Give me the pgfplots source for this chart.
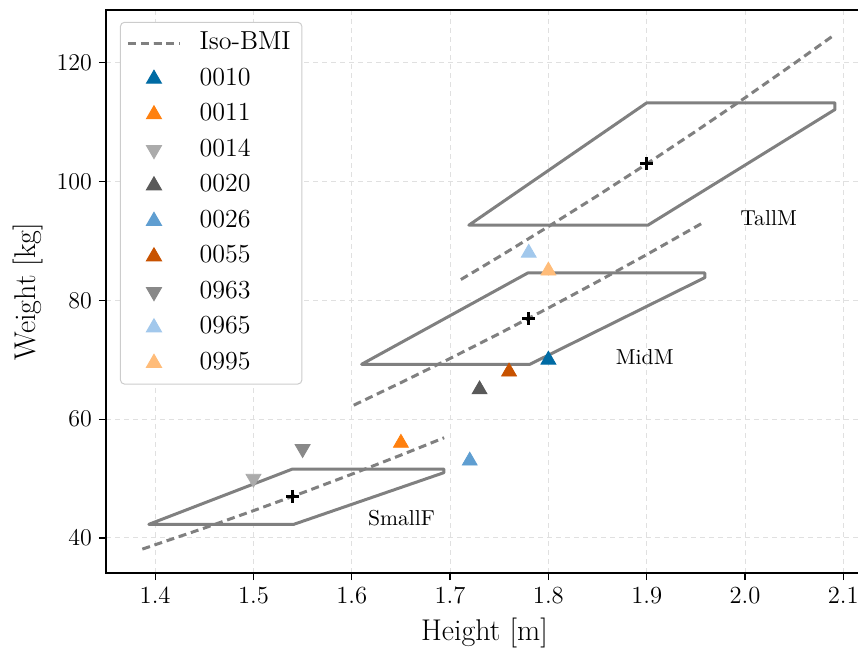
\documentclass[border=0pt]{standalone}
\usepackage{pgfplots}
\pgfplotsset{compat=1.18}
\definecolor{c0010}{HTML}{006BA4}
\definecolor{c0011}{HTML}{FF800E}
\definecolor{c0014}{HTML}{ABABAB}
\definecolor{c0020}{HTML}{595959}
\definecolor{c0026}{HTML}{5F9ED1}
\definecolor{c0055}{HTML}{C85200}
\definecolor{c0963}{HTML}{898989}
\definecolor{c0965}{HTML}{A2C8EC}
\definecolor{c0995}{HTML}{FFBC79}
\definecolor{polyc}{HTML}{808080}
\begin{document}
\begin{tikzpicture}
\begin{axis}[
  scale only axis, width=378.5pt, height=281.5pt,
  xmin=1.35, xmax=2.12, ymin=34.1, ymax=128.9,
  xtick={1.4,1.5,1.6,1.7,1.8,1.9,2.0,2.1},
  xticklabels={1.4,1.5,1.6,1.7,1.8,1.9,2.0,2.1},
  ytick={40,60,80,100,120},
  tick align=outside, tick pos=left, major tick length=3.5pt,
  tick style={black, line width=0.6pt},
  axis line style={line width=0.8pt},
  grid=major,
  major grid style={black!12, line width=0.5pt, dash pattern=on 2.5pt off 2pt},
  ticklabel style={font=\fontsize{12.3}{14}\selectfont},
  label style={font=\fontsize{15}{18}\selectfont},
  xlabel={Height [m]}, ylabel={Weight [kg]},
  legend cell align=left,
  legend image code/.code={\draw[mark repeat=2,mark phase=2] plot coordinates {(0pt,0pt)(13pt,0pt)(26pt,0pt)};},
  legend style={at={(0.0185,0.979)}, anchor=north west, draw=black!20, line width=0.5pt,
    rounded corners=2pt, fill=white, font=\fontsize{13}{15}\selectfont,
    inner xsep=3pt, inner ysep=3pt, row sep=2.65pt,
    /tikz/every odd column/.append style={column sep=6.5pt},
    nodes={inner sep=2pt, inner xsep=2.6pt, text height=8.6pt, text depth=2.5pt}},
]
% iso-BMI lines
\addplot[polyc, line width=1.5pt, dash pattern=on 4pt off 2.4pt] coordinates {
 (1.387,38.13) (1.45,41.67) (1.5,44.60) (1.55,47.62) (1.6,50.74) (1.65,53.96) (1.694,56.88)};
\addlegendentry{Iso-BMI}
\addplot[polyc, line width=1.5pt, dash pattern=on 4pt off 2.4pt, forget plot] coordinates {
 (1.602,62.36) (1.65,66.16) (1.7,70.23) (1.75,74.42) (1.8,78.73) (1.85,83.17) (1.9,87.72) (1.958,93.16)};
\addplot[polyc, line width=1.5pt, dash pattern=on 4pt off 2.4pt, forget plot] coordinates {
 (1.711,83.52) (1.75,87.37) (1.8,92.44) (1.85,97.64) (1.9,102.99) (1.95,108.49) (2.0,114.12) (2.05,119.90) (2.089,124.50)};
% regions
\addplot[polyc, line width=1.5pt, line join=round, forget plot] coordinates {
 (1.3936,42.3) (1.5395,51.6) (1.6937,51.6) (1.6937,51.0) (1.541,42.3)} -- cycle;
\addplot[polyc, line width=1.5pt, line join=round, forget plot] coordinates {
 (1.610,69.25) (1.7791,84.63) (1.9592,84.63) (1.9592,83.85) (1.7812,69.25)} -- cycle;
\addplot[polyc, line width=1.5pt, line join=round, forget plot] coordinates {
 (1.7191,92.67) (1.8999,113.26) (2.0915,113.26) (2.0915,112.15) (1.9012,92.67)} -- cycle;
% centres
\addplot[only marks, mark=+, mark size=3.25pt, black, line width=1.6pt, forget plot] coordinates {
 (1.54,47) (1.78,77) (1.90,103)};
% subjects
\addplot[only marks, mark=triangle*, mark size=4.3pt, color=c0010] coordinates {(1.80,70)};
\addlegendentry{0010}
\addplot[only marks, mark=triangle*, mark size=4.3pt, color=c0011] coordinates {(1.65,56)};
\addlegendentry{0011}
\addplot[only marks, mark=triangle*, mark size=4.3pt, mark options={rotate=180}, color=c0014] coordinates {(1.50,50)};
\addlegendentry{0014}
\addplot[only marks, mark=triangle*, mark size=4.3pt, color=c0020] coordinates {(1.73,65)};
\addlegendentry{0020}
\addplot[only marks, mark=triangle*, mark size=4.3pt, color=c0026] coordinates {(1.72,53)};
\addlegendentry{0026}
\addplot[only marks, mark=triangle*, mark size=4.3pt, color=c0055] coordinates {(1.76,68)};
\addlegendentry{0055}
\addplot[only marks, mark=triangle*, mark size=4.3pt, mark options={rotate=180}, color=c0963] coordinates {(1.55,55)};
\addlegendentry{0963}
\addplot[only marks, mark=triangle*, mark size=4.3pt, color=c0965] coordinates {(1.78,88)};
\addlegendentry{0965}
\addplot[only marks, mark=triangle*, mark size=4.3pt, color=c0995] coordinates {(1.80,85)};
\addlegendentry{0995}
\node[font=\fontsize{10.8}{13}\selectfont] at (axis cs:2.024,93.8) {TallM};
\node[font=\fontsize{10.8}{13}\selectfont] at (axis cs:1.898,70.5) {MidM};
\node[font=\fontsize{10.8}{13}\selectfont] at (axis cs:1.6507,43.4) {SmallF};
\coordinate (bbSW) at (rel axis cs:-0.14,-0.1421);
\coordinate (bbNE) at (rel axis cs:0.9934,1.0178);
\end{axis}
\pgfresetboundingbox
\path[use as bounding box] (bbSW) rectangle (bbNE);
\end{tikzpicture}
\end{document}
